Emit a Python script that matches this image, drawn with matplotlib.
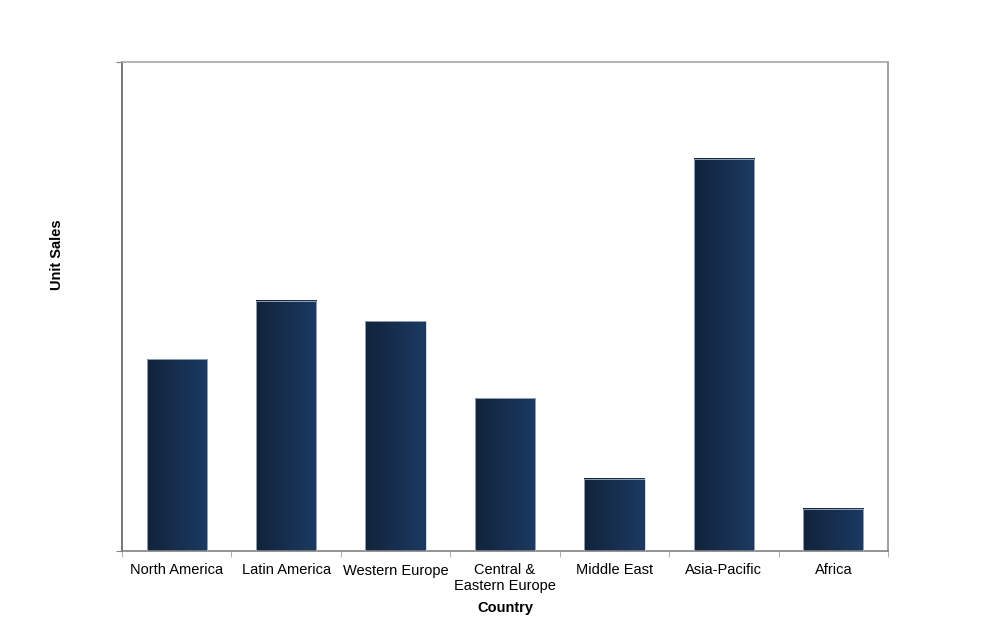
import numpy as np
import matplotlib
matplotlib.use('Agg')
import matplotlib.pyplot as plt
from matplotlib.colors import LinearSegmentedColormap

plt.rcParams['font.family'] = ['Liberation Sans', 'DejaVu Sans']

# Datos
regiones = ['North America', 'Latin America', 'Western Europe', 'Central &\nEastern Europe',
            'Middle East', 'Asia-Pacific', 'Africa']
ventas = [19.6, 25.6, 23.5, 15.6, 7.4, 40.1, 4.3]
y_max = 50

fig = plt.figure(figsize=(9.9, 6.18), dpi=100)
ax = fig.add_axes([122 / 990, 1 - 551 / 618, 766 / 990, 489 / 618])

x = np.arange(len(regiones))
ancho = 0.55
barras = ax.bar(x, ventas, width=ancho, color='none', edgecolor='#c4cedb', linewidth=0.5, zorder=3)

# Degradado horizontal en cada barra
cmap = LinearSegmentedColormap.from_list('azul', ['#12233b', '#1b3a63'])
grad = np.linspace(0, 1, 256).reshape(1, -1)
for b in barras:
    x0, w, h = b.get_x(), b.get_width(), b.get_height()
    ax.imshow(grad, cmap=cmap, aspect='auto', extent=[x0, x0 + w, 0, h], zorder=2)

ax.set_xlim(-0.5, len(regiones) - 0.5)
ax.set_ylim(0, y_max)

ax.set_xticks(x)
ax.set_xticklabels(regiones, fontsize=10.5, linespacing=1.15)
ax.set_xticks(np.arange(-0.5, len(regiones)), minor=True)
ax.tick_params(axis='x', which='major', length=0, pad=9)
ax.tick_params(axis='x', which='minor', length=4, color='#a0a0a0')
ax.set_yticks([0, y_max])
ax.set_yticklabels([])
ax.tick_params(axis='y', length=4, color='#808080')

ax.spines['left'].set_color('#606060')
ax.spines['bottom'].set_color('#808080')
ax.spines['top'].set_color('#a8a8a8')
ax.spines['right'].set_color('#909090')
for s in ax.spines.values():
    s.set_linewidth(1.2)

ax.set_xlabel('Country', fontsize=10.5, fontweight='bold', labelpad=6)
fig.text(57 / 990, 1 - 255 / 618, 'Unit Sales', fontsize=10.5, fontweight='bold',
         rotation=90, ha='center', va='center')

fig.savefig('out.png', dpi=100)
